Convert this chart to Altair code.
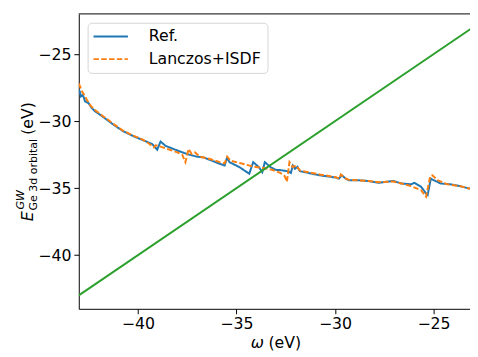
import altair as alt
import pandas as pd

# ---- data ----
ref_omega = [-43.0, -42.95, -42.89, -42.79, -42.68, -42.51, -42.34, -42.18, -41.93, -41.59,
             -41.26, -40.76, -40.26, -39.77, -39.27, -39.02, -38.85, -38.6, -38.1, -37.51,
             -37.01, -36.68, -36.35, -35.85, -35.6, -35.48, -35.35, -34.85, -34.35, -34.15,
             -33.86, -33.69, -33.56, -33.27, -33.02, -32.78, -32.36, -32.24, -32.14, -32.03,
             -31.91, -31.78, -30.78, -29.95, -29.8, -29.65, -29.45, -29.29, -28.79, -28.29,
             -27.79, -27.05, -26.63, -26.13, -25.98, -25.63, -25.38, -25.3, -25.14, -24.98,
             -24.64, -24.14, -23.64, -23.22, -23.0]
ref_energy = [-27.65, -27.79, -28.16, -28.04, -28.53, -28.65, -29.02, -29.26, -29.51, -29.88,
              -30.24, -30.74, -31.10, -31.40, -31.71, -32.13, -31.52, -31.84, -32.13, -32.45,
              -32.65, -32.70, -32.89, -33.18, -33.31, -32.74, -33.06, -33.43, -33.92, -33.06,
              -33.43, -33.80, -33.06, -33.43, -33.63, -33.65, -33.75, -33.87, -33.31, -33.55,
              -33.40, -33.73, -34.04, -34.21, -34.29, -34.04, -34.30, -34.41, -34.41, -34.47,
              -34.60, -34.46, -34.65, -34.71, -34.60, -34.90, -35.39, -35.51, -34.29, -34.41,
              -34.65, -34.71, -34.85, -35.02, -35.05]

lz_omega = [-43.0, -42.83, -42.59, -42.4, -42.2, -41.93, -41.59, -41.26, -40.76, -40.26,
            -39.77, -39.52, -39.19, -39.1, -38.85, -38.5, -38.0, -37.75, -37.59, -37.43,
            -37.27, -37.1, -36.85, -36.35, -35.85, -35.6, -35.47, -35.3, -34.68, -34.18,
            -33.69, -33.19, -32.78, -32.55, -32.44, -32.31, -32.14, -31.98, -31.78, -30.78,
            -29.95, -29.8, -29.7, -29.5, -29.29, -28.29, -27.79, -27.05, -26.63, -26.13,
            -25.63, -25.38, -25.17, -25.05, -24.8, -24.3, -23.64, -23.22, -23.0]
lz_energy = [-27.18, -27.79, -28.40, -28.85, -29.15, -29.45, -29.82, -30.18, -30.70, -31.06,
             -31.36, -31.59, -31.96, -31.80, -31.90, -32.08, -32.33, -32.50, -33.06, -32.08,
             -32.45, -32.33, -32.65, -32.82, -33.06, -33.15, -32.65, -32.95, -33.18, -33.38,
             -33.48, -33.63, -33.85, -34.10, -34.53, -33.06, -33.43, -33.31, -33.68, -33.98,
             -34.18, -34.29, -33.97, -34.25, -34.38, -34.46, -34.55, -34.50, -34.65, -34.85,
             -35.15, -35.64, -34.12, -34.04, -34.41, -34.71, -34.85, -35.02, -35.05]

diag_omega = [-43.0, -23.0]
diag_energy = [-43.0, -23.0]

series_names = ["Ref.", "Lanczos+ISDF"]
series_colors = ["#1f77b4", "#ff7f0e"]
series_dashes = [[1, 0], [5.5, 2.4]]
diag_color = "#2ca02c"

x_ticks = [-40, -35, -30, -25]
y_ticks = [-40, -35, -30, -25]
x_domain = [-43.0, -23.15]
y_domain = [-44.0, -22.0]

ref_df = pd.DataFrame({"omega": ref_omega, "E": ref_energy, "series": series_names[0]})
lz_df = pd.DataFrame({"omega": lz_omega, "E": lz_energy, "series": series_names[1]})
diag_df = pd.DataFrame({"omega": diag_omega, "E": diag_energy})

W, H = 398, 300
FONT = "DejaVu Sans"

xenc = alt.X("omega:Q", scale=alt.Scale(domain=x_domain, nice=False, zero=False),
             axis=alt.Axis(values=x_ticks, title=None, labelPadding=2))
yenc = alt.Y("E:Q", scale=alt.Scale(domain=y_domain, nice=False, zero=False),
             axis=alt.Axis(values=y_ticks, title=None, labelPadding=3))

legend = alt.Legend(orient="none", legendX=9, legendY=9, title=None,
                    symbolType="M-3,0H3", symbolSize=136, symbolStrokeWidth=2,
                    symbolOffset=9.5, labelOffset=30.7, labelFontSize=16, labelFont=FONT,
                    labelColor="black", padding=6, rowPadding=7,
                    strokeColor="#d5d5d5", fillColor="rgba(255,255,255,0.8)",
                    cornerRadius=4)

color_enc = alt.Color("series:N", scale=alt.Scale(domain=series_names, range=series_colors),
                      legend=legend)
dash_enc = alt.StrokeDash("series:N", scale=alt.Scale(domain=series_names, range=series_dashes),
                          legend=legend)

ref_line = alt.Chart(ref_df).mark_line(strokeWidth=2, clip=True).encode(
    x=xenc, y=yenc, color=color_enc, strokeDash=dash_enc, order="omega:Q")
lz_line = alt.Chart(lz_df).mark_line(strokeWidth=2, clip=True).encode(
    x=xenc, y=yenc, color=color_enc, strokeDash=dash_enc, order="omega:Q")
diag_line = alt.Chart(diag_df).mark_line(strokeWidth=2, color=diag_color, clip=True).encode(
    x=xenc, y=yenc)

top_spine = alt.Chart(pd.DataFrame({"a": [0]})).mark_rule(color="black", strokeWidth=1).encode(
    x=alt.value(0), x2=alt.value(W), y=alt.value(0))

one = pd.DataFrame({"a": [0]})

def txt(t, x, y, size=16, style="normal", angle=270, align="left"):
    return alt.Chart(one).mark_text(text=t, font=FONT, fontSize=size, fontStyle=style,
                                    angle=angle, align=align, baseline="alphabetic",
                                    color="black").encode(x=alt.value(x), y=alt.value(y))

ytitle = [
    txt("E", -47, 211, 16, "italic"),
    txt("GW", -56, 199, 11.2, "italic"),
    txt("Ge 3d orbital", -43, 200, 11.2),
    txt("(eV)", -47, 123, 16),
]
xtitle = [
    txt("ω", 175, 340, 16, "italic", angle=0),
    txt("(eV)", 193, 340, 16, angle=0),
]

chart = alt.layer(ref_line, lz_line, diag_line, top_spine, *ytitle, *xtitle).properties(
    width=W, height=H,
    autosize=alt.AutoSizeParams(type="none"),
    padding={"left": 72, "top": 3, "right": 0, "bottom": 46},
).configure_view(stroke=None).configure_axis(
    domainColor="black", domainWidth=1, tickColor="black", tickWidth=1, tickSize=5,
    labelFont=FONT, labelFontSize=16, labelColor="black", grid=False,
)

chart.save("out.html", embed_options={"renderer": "svg", "actions": False})
